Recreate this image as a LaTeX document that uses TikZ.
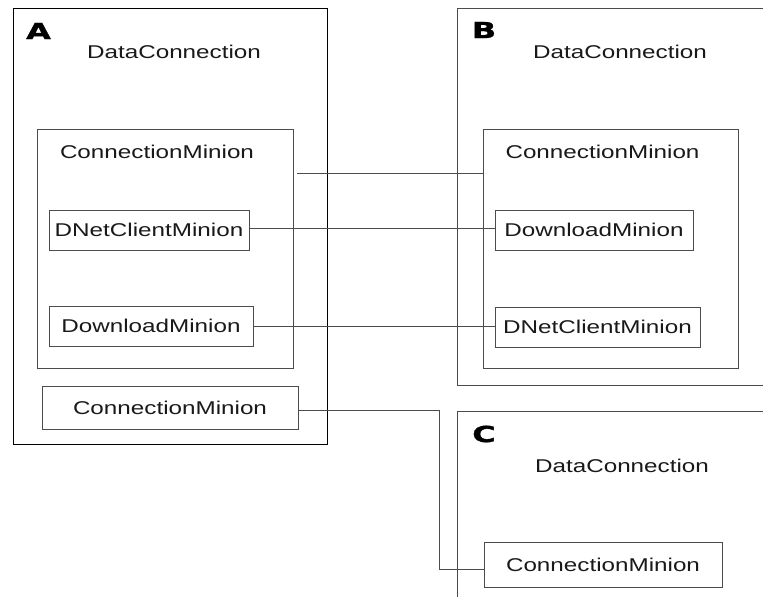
\documentclass[tikz,border=0pt]{standalone}
\usepackage{fontspec}
\setmainfont{Liberation Sans}[FakeStretch=1.31]
\newfontfamily\lblfont{DejaVu Sans}[UprightFont={* Bold}, FakeStretch=1.45, FakeBold=1.5]
\begin{document}
\begin{tikzpicture}[x=1pt,y=-1pt,
  txt/.style={font=\fontsize{18.5}{20}\selectfont, text=black!90},
  box/.style={draw=black!70, line width=1pt, inner sep=0pt, txt},
  outer/.style={box, draw=black},
  title/.style={txt, anchor=base, inner sep=0pt},
  letter/.style={font=\lblfont\fontsize{22}{22}\selectfont, inner sep=0pt},
  link/.style={draw=black!70, line width=1pt}]
  % canvas and clipping
  \path[use as bounding box, fill=white] (0,0) rectangle (763,597);
  \clip (0,0) rectangle (763,597);

  % --- DataConnection A ---
  \node[outer, minimum width=314pt, minimum height=436pt] (dcA) at (170,226) {};
  \node[letter] (lA) at (38.5,31) {A};
  \node[title] (tA) at (174,58) {DataConnection};
  \node[box, minimum width=256pt, minimum height=239pt] (cmA) at (165,248.5) {};
  \node[title] (tcmA) at (157,158) {ConnectionMinion};
  \node[box, minimum width=200pt, minimum height=40pt] (dnA) at (149,230) {DNetClientMinion};
  \node[box, minimum width=204pt, minimum height=40pt] (dlA) at (151,326) {DownloadMinion};
  \node[box, minimum width=256pt, minimum height=43pt] (cmA2) at (170,407.5) {ConnectionMinion};

  % --- DataConnection B ---
  \node[box, minimum width=363pt, minimum height=377pt] (dcB) at (638.5,196.5) {};
  \node[letter] (lB) at (484,30) {B};
  \node[title] (tB) at (620,58) {DataConnection};
  \node[box, minimum width=255pt, minimum height=239pt] (cmB) at (610.5,248.5) {};
  \node[title] (tcmB) at (602.5,158) {ConnectionMinion};
  \node[box, minimum width=198pt, minimum height=40pt] (dlB) at (594,230) {DownloadMinion};
  \node[box, minimum width=205pt, minimum height=40pt] (dnB) at (597.5,327) {DNetClientMinion};

  % --- DataConnection C ---
  \node[box, minimum width=363pt, minimum height=289pt] (dcC) at (638.5,555.5) {};
  \node[letter] (lC) at (484,434) {C};
  \node[title] (tC) at (622,472) {DataConnection};
  \node[box, minimum width=238pt, minimum height=45pt] (cmC) at (603,564.5) {ConnectionMinion};

  % --- links ---
  \coordinate (s1) at (297,173);
  \draw[link] (s1) -- (s1 -| cmB.west);
  \draw[link] ([yshift=2pt]dnA.east) -- ([yshift=2pt]dnA.east -| dlB.west);
  \draw[link] (dlA.east) -- (dlA.east -| dnB.west);
  \draw[link] ([yshift=-2.5pt]cmA2.east) -- ++(141,0) |- ([yshift=-4.5pt]cmC.west);
\end{tikzpicture}
\end{document}
